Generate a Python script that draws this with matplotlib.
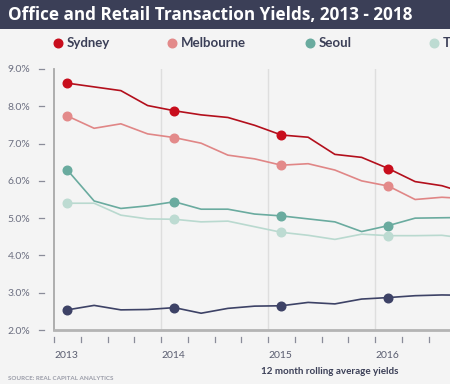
import matplotlib
matplotlib.use("Agg")
import matplotlib.pyplot as plt
from matplotlib.lines import Line2D
from matplotlib.patches import Rectangle
import matplotlib.transforms as mtrans
import numpy as np

# ---- data ----
quarters = [2013.125, 2013.375, 2013.625, 2013.875,
            2014.125, 2014.375, 2014.625, 2014.875,
            2015.125, 2015.375, 2015.625, 2015.875,
            2016.125, 2016.375, 2016.625, 2016.875]
series_names = ["Sydney", "Melbourne", "Seoul", "Tokyo", "Hong Kong"]
sydney = [8.62, 8.52, 8.42, 8.02, 7.88, 7.77, 7.70, 7.49,
          7.23, 7.17, 6.71, 6.63, 6.33, 5.98, 5.87, 5.65]
melbourne = [7.74, 7.41, 7.53, 7.26, 7.16, 7.01, 6.69, 6.59,
             6.42, 6.46, 6.29, 6.00, 5.86, 5.50, 5.56, 5.52]
seoul = [6.29, 5.46, 5.26, 5.33, 5.44, 5.24, 5.24, 5.11,
         5.06, 4.98, 4.90, 4.64, 4.80, 5.00, 5.01, 5.02]
tokyo = [5.40, 5.40, 5.08, 4.98, 4.97, 4.90, 4.92, 4.77,
         4.62, 4.54, 4.43, 4.57, 4.53, 4.53, 4.54, 4.45]
hongkong = [2.54, 2.66, 2.54, 2.55, 2.60, 2.45, 2.58, 2.64,
            2.65, 2.74, 2.70, 2.83, 2.87, 2.92, 2.94, 2.93]
values = [sydney, melbourne, seoul, tokyo, hongkong]
year_labels = ["2013", "2014", "2015", "2016", "2017", "2018"]
year_ticks = [2013, 2014, 2015, 2016, 2017, 2018]
y_ticks = [2, 3, 4, 5, 6, 7, 8, 9]
y_labels = ["2.0%", "3.0%", "4.0%", "5.0%", "6.0%", "7.0%", "8.0%", "9.0%"]

line_colors = ["#b30f1c", "#e08686", "#6aab9f", "#b9d9cf", "#3d4266"]
marker_colors = ["#c80d1c", "#e38a8a", "#6aab9f", "#bddbd2", "#3d4266"]
legend_x = [58, 172, 310, 434, 560]

BG = "#f4f4f4"
NAVY = "#3b3f57"
W, H = 450, 384

fig = plt.figure(figsize=(4.5, 3.84), dpi=100, facecolor=BG)
font = "Lato"

# title bar
fig.add_artist(Rectangle((0, 1 - 29 / H), 1, 29 / H, transform=fig.transFigure,
                         facecolor=NAVY, edgecolor="none", zorder=0))
fig.text(8 / W, 1 - 15 / H, "Office and Retail Transaction Yields, 2013 - 2018",
         color="white", fontsize=12.3, fontweight="bold", family="Open Sans",
         ha="left", va="center")

# axes
x0 = 54
ax_left = x0 / W
ax_bottom = 1 - 330 / H
ax_top = 1 - 69 / H
ax = fig.add_axes([ax_left, ax_bottom, 1 - ax_left, ax_top - ax_bottom])
ax.set_facecolor(BG)
px_per_year = 107.0
xmax = 2013 + (W - x0) / px_per_year
ax.set_xlim(2013, xmax)
ax.set_ylim(2, 9)

for sp in ["top", "right"]:
    ax.spines[sp].set_visible(False)
ax.spines["left"].set_color("#a8a8a8")
ax.spines["left"].set_linewidth(1.3)
ax.spines["bottom"].set_color("#b4b4b4")
ax.spines["bottom"].set_linewidth(2.0)

# vertical year gridlines
for yr in year_ticks[1:]:
    if yr < xmax:
        ax.axvline(yr, color="#dedede", lw=1.0, zorder=0)

# series
for name, vals, lc, mc in zip(series_names, values, line_colors, marker_colors):
    ax.plot(quarters, vals, color=lc, lw=1.2, zorder=3)
    ax.plot(quarters[::4], vals[::4], ls="none", marker="o", ms=6.2,
            mfc=mc, mec=mc, zorder=4)

# y ticks
ax.set_yticks(y_ticks)
ax.set_yticklabels(y_labels, family=font, fontsize=7.5, color="#6b6e80")
ax.tick_params(axis="y", length=0, pad=17)
ybl = mtrans.blended_transform_factory(ax.transAxes, ax.transData)
dx0 = (39 - x0) / (W - x0)
dx1 = (44 - x0) / (W - x0)
for yv in y_ticks:
    ax.plot([dx0, dx1], [yv, yv], transform=ybl, color="#8a8c99", lw=0.9,
            clip_on=False)

# x ticks (quarterly dashes) and year labels
ax.set_xticks([])
xbl = mtrans.blended_transform_factory(ax.transData, ax.transAxes)
ah = (330 - 69)
q = 2013.0
while q < xmax:
    ax.plot([q, q], [-(337 - 330) / ah, -(342 - 330) / ah], transform=xbl,
            color="#8a8c99", lw=0.9, clip_on=False)
    q += 0.25
for yr, lab in zip(year_ticks, year_labels):
    if yr < xmax - 0.2:
        ax.text(yr, -(355 - 330) / ah, lab, transform=xbl, ha="left", va="center",
                family=font, fontsize=7.5, color="#5a5d70", clip_on=False)

# legend
for name, mc, lx in zip(series_names, marker_colors, legend_x):
    if lx > W:
        continue
    fig.add_artist(Line2D([lx / W], [1 - 43 / H], marker="o", ms=6.2,
                          mfc=mc, mec=mc, ls="none",
                          transform=fig.transFigure))
    fig.text((lx + 9) / W, 1 - 43 / H, name, family=font, fontsize=9.5,
             fontweight="bold", color=NAVY, ha="left", va="center")

# footer texts
fig.text(330 / W, 1 - 371 / H, "12 month rolling average yields", family=font,
         fontsize=7.1, fontweight="bold", color=NAVY, ha="center", va="center")
fig.text(8 / W, 1 - 378 / H, "SOURCE: REAL CAPITAL ANALYTICS", family=font,
         fontsize=4.5, fontweight="bold", color="#9a9ca8", ha="left", va="center")

fig.savefig("out.png", dpi=100, facecolor=BG)
